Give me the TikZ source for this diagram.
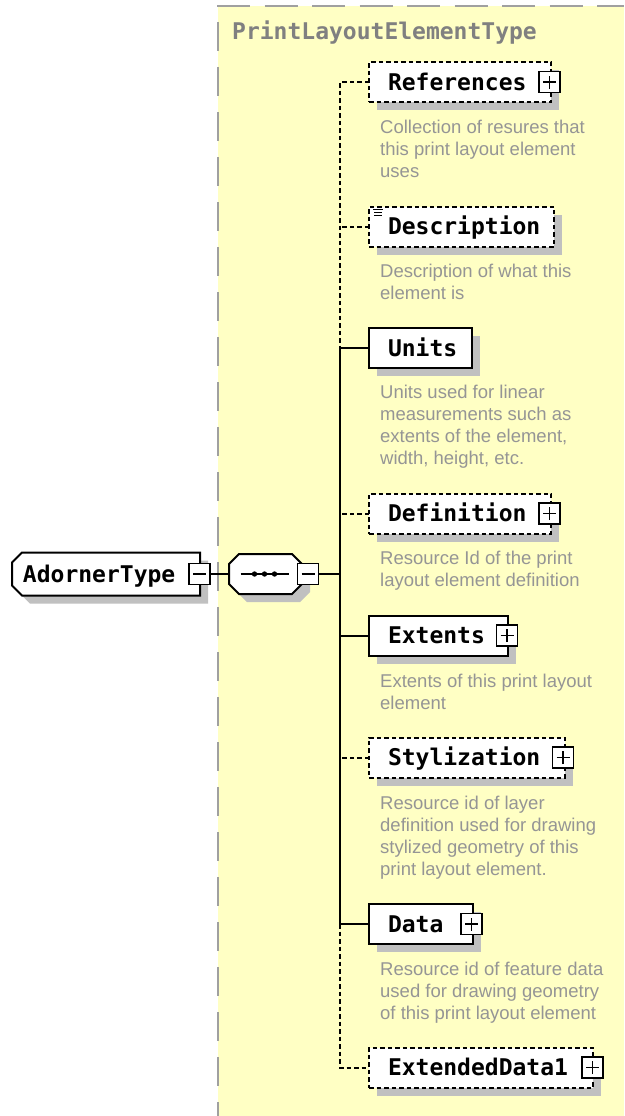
\documentclass[tikz,border=0pt]{standalone}
\usepackage{fontspec}
\usetikzlibrary{shadows,backgrounds}
\newfontfamily\elfont{DejaVu Sans Mono}
\newfontfamily\docfont{Liberation Sans}
\definecolor{panel}{HTML}{FFFFC4}
\definecolor{paneledge}{HTML}{A0A0A0}
\definecolor{shadowgray}{HTML}{C0C0C0}
\definecolor{docgray}{HTML}{959595}
\definecolor{titlegray}{HTML}{808080}
% element label, left aligned in a box of fixed width
\newcommand\elname[2]{\makebox[#1][l]{\hspace{19pt}#2}}
\tikzset{
  hardshadow/.style={drop shadow={shadow xshift=8pt, shadow yshift=-8pt, fill=shadowgray, opacity=1}},
  namefont/.style={font=\elfont\bfseries\fontsize{23}{27}\selectfont},
  reqbox/.style={namefont, draw=black, line width=2pt, fill=white, outer sep=0pt,
    inner sep=0pt, minimum height=40pt, text height=16.8pt, text depth=0pt,
    anchor=west, hardshadow},
  optbox/.style={reqbox, dash pattern=on 4.5pt off 3pt},
  plusbox/.style={draw=black, line width=1.5pt, fill=white, minimum size=21pt,
    inner sep=0pt, outer sep=0pt,
    path picture={\draw[line width=1.5pt]
      ([xshift=4pt]path picture bounding box.west) -- ([xshift=-4pt]path picture bounding box.east)
      ([yshift=4pt]path picture bounding box.south) -- ([yshift=-4pt]path picture bounding box.north);}},
  minusbox/.style={draw=black, line width=1.5pt, fill=white, minimum size=21pt,
    inner sep=0pt, outer sep=0pt,
    path picture={\draw[line width=1.5pt]
      ([xshift=4pt]path picture bounding box.west) -- ([xshift=-4pt]path picture bounding box.east);}},
  doc/.style={anchor=north west, inner sep=0pt, align=left, text=docgray,
    font=\docfont\fontsize{18.5}{22}\selectfont},
  link/.style={draw=black, line width=2pt},
  optlink/.style={link, dash pattern=on 4.5pt off 3pt},
}
\begin{document}
\begin{tikzpicture}[x=1pt,y=-1pt]
\useasboundingbox (0,0) rectangle (624,1116);

% ---- root element and sequence compositor (outlines go behind) ----
\node[namefont, anchor=west, inner sep=0pt, outer sep=0pt, minimum width=188pt,
      minimum height=43pt, text height=16.8pt, text depth=0pt]
  (adorner) at (12,574) {\makebox[188pt][l]{\hspace{11pt}AdornerType}};
\node[minusbox] (adminus) at ([xshift=-0.5pt]adorner.east) {};

\node[inner sep=0pt, outer sep=0pt, minimum width=73pt, minimum height=40pt] (seq) at (265.5,574) {};
\node[minusbox] (seqminus) at ([xshift=6pt]seq.east) {};
\draw[line width=1.5pt] ([xshift=-25pt]seq.center) -- ([xshift=23pt]seq.center);
\foreach \dx in {-11,-1,9}
  \fill ([xshift=\dx pt]seq.center) circle[radius=2.7pt];

% ---- title of the complex type ----
\node[namefont, anchor=west, inner sep=0pt, text=titlegray] (title) at (232,33) {PrintLayoutElementType};

% ---- child elements ----
\node[optbox] (references) at (369,82)     {\elname{182pt}{References}};
\node[optbox] (description) at (369,226.5) {\elname{185pt}{Description}};
\node[reqbox] (units) at (369,348)         {\elname{103pt}{Units}};
\node[optbox] (definition) at (369,513.5)  {\elname{182pt}{Definition}};
\node[reqbox] (extents) at (369,635.5)     {\elname{139pt}{Extents}};
\node[optbox] (stylization) at (369,757.5) {\elname{196pt}{Stylization}};
\node[reqbox] (data) at (369,924)          {\elname{104pt}{Data}};
\node[optbox] (extdata) at (369,1067.5)    {\elname{224pt}{ExtendedData1}};

\node[plusbox] (refplus)  at ([xshift=-1.5pt]references.east) {};
\node[plusbox] (defplus)  at ([xshift=-1.5pt]definition.east) {};
\node[plusbox] (extplus)  at ([xshift=-1pt]extents.east) {};
\node[plusbox] (stylplus) at ([xshift=-2pt]stylization.east) {};
\node[plusbox] (dataplus) at ([xshift=-1.5pt]data.east) {};
\node[plusbox] (xdplus)   at ([xshift=-0.5pt]extdata.east) {};

% mixed-content mark on Description
\draw[line width=1.3pt]
  ([shift={(4pt,-3pt)}]description.north west) -- ++(10pt,0pt)
  ([shift={(5pt,-6pt)}]description.north west) -- ++(8pt,0pt)
  ([shift={(5pt,-9pt)}]description.north west) -- ++(8pt,0pt);

% ---- annotations ----
\node[doc] (refdoc)  at (380,119.7) {Collection of resures that\\this print layout element\\uses};
\node[doc] (descdoc) at (380,263.7) {Description of what this\\element is};
\node[doc] (unitsdoc) at (380,384.7) {Units used for linear\\measurements such as\\extents of the element,\\width, height, etc.};
\node[doc] (defdoc)  at (380,550.7) {Resource Id of the print\\layout element definition};
\node[doc] (extdoc)  at (380,673.7) {Extents of this print layout\\element};
\node[doc] (styldoc) at (380,795.7) {Resource id of layer\\definition used for drawing\\stylized geometry of this\\print layout element.};
\node[doc] (datadoc) at (380,961.7) {Resource id of feature data\\used for drawing geometry\\of this print layout element};

% ---- connectors ----
\coordinate (spine) at (340,574);
\draw[link] (adminus.east) -- (seq.west);
\draw[link] (seqminus.east) -- (spine);
\draw[optlink] (references.west) -- (references.west -| spine) -- (units.west -| spine);
\draw[optlink] (description.west) -- (description.west -| spine);
\draw[link] (units.west) -- (units.west -| spine) -- (data.west -| spine);
\draw[optlink] (definition.west) -- (definition.west -| spine);
\draw[link] (extents.west) -- (extents.west -| spine);
\draw[optlink] (stylization.west) -- (stylization.west -| spine);
\draw[link] (data.west) -- (data.west -| spine);
\draw[optlink] (data.west -| spine) -- (extdata.west -| spine) -- (extdata.west);

% ---- background: page, type panel, outlines of root and compositor ----
\begin{pgfonlayer}{background}
  \fill[white] (0,0) rectangle (624,1116);
  \fill[panel] (218,6) rectangle (624,1116);
  \draw[paneledge, line width=2pt, dash pattern=on 33pt off 14.5pt] (217,6) -- (624,6);
  \draw[paneledge, line width=2pt, dash pattern=on 29pt off 16pt, dash phase=30pt] (218,7) -- (218,1116);
  \path[draw=black, line width=2pt, fill=white, hardshadow]
    ([xshift=10pt]adorner.north west) -- (adorner.north east) -- (adorner.south east)
    -- ([xshift=10pt]adorner.south west) -- ([yshift=10pt]adorner.south west)
    -- ([yshift=-10pt]adorner.north west) -- cycle;
  \path[draw=black, line width=2pt, fill=white, hardshadow]
    ([xshift=10pt]seq.north west) -- ([xshift=-10pt]seq.north east)
    -- ([yshift=-10pt]seq.north east) -- ([yshift=10pt]seq.south east)
    -- ([xshift=-10pt]seq.south east) -- ([xshift=10pt]seq.south west)
    -- ([yshift=10pt]seq.south west) -- ([yshift=-10pt]seq.north west) -- cycle;
\end{pgfonlayer}
\end{tikzpicture}
\end{document}
